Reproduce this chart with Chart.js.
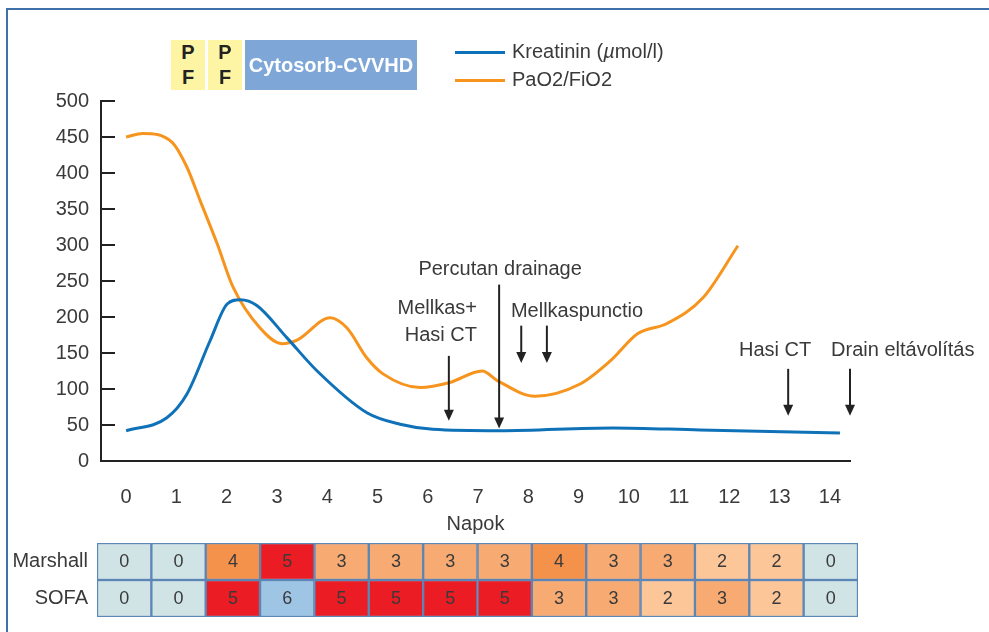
<!DOCTYPE html>
<html>
<head>
<meta charset="utf-8">
<script src="https://cdn.jsdelivr.net/npm/chart.js@4.4.1/dist/chart.umd.min.js"></script>
<style>
  body { margin: 0; width: 989px; height: 632px; position: relative; overflow: hidden; background: #fff;
         font-family: "Liberation Sans", Arial, sans-serif; }
  .frame { position: absolute; left: 6px; top: 8px; width: 1000px; height: 640px;
           border-top: 2px solid #3f70a9; border-left: 2px solid #3f70a9; }
  #mainWrap { position: absolute; left: 0; top: 0; width: 989px; height: 540px; }
  #tableWrap { position: absolute; left: 0; top: 522px; width: 989px; height: 116px; }
  .pf { position: absolute; top: 40px; width: 34px; height: 50px; background: #fdf5a3; color: #222;
        font-weight: bold; font-size: 20px; line-height: 25px; text-align: center; }
  .cyto { position: absolute; left: 245px; top: 40px; width: 172px; height: 50px; background: #7ea7d8;
          color: #fff; font-weight: bold; font-size: 20px; line-height: 50px; text-align: center; }
  .leg { position: absolute; left: 455px; font-size: 20px; color: #3a3a3a; }
  .leg span.line { position: absolute; left: 0; width: 50px; height: 3px; }
  .leg span.txt { position: absolute; left: 57px; top: -12px; white-space: nowrap; line-height: 24px; }
</style>
</head>
<body>
<div class="frame"></div>
<div id="mainWrap"><canvas id="mainChart" width="989" height="540"></canvas></div>
<div id="tableWrap"><canvas id="scoreChart" width="989" height="116"></canvas></div>

<div class="pf" style="left:171px">P<br>F</div>
<div class="pf" style="left:208px">P<br>F</div>
<div class="cyto">Cytosorb-CVVHD</div>
<div class="leg" style="top:51px"><span class="line" style="background:#0f72b9"></span><span class="txt">Kreatinin (<i>µ</i>mol/l)</span></div>
<div class="leg" style="top:79px"><span class="line" style="background:#f7941d"></span><span class="txt">PaO2/FiO2</span></div>

<script>
// napok (days) on the x axis
const dayTicks = [0, 1, 2, 3, 4, 5, 6, 7, 8, 9, 10, 11, 12, 13, 14];

// Kreatinin (umol/l)
const kreatDays = [0, 0.81, 1.21, 1.67, 2.01, 2.27, 2.6, 3.2, 3.8, 4.79, 5.45, 6.1, 7.44, 9.69, 11.42, 14.2];
const kreatValues = [42, 60, 93, 167, 218, 224, 216, 171, 125, 67, 51, 44, 42, 46, 43, 39];

// PaO2/FiO2
const pfDays = [0, 0.33, 0.91, 1.21, 1.47, 1.81, 2.13, 2.66, 3.1, 3.4, 4.06, 4.39, 4.79, 5.11, 5.85, 6.44, 7.08, 7.4, 8.13, 9.03, 9.63, 10.18, 10.76, 11.48, 12.17];
const pfValues = [450, 455, 443, 408, 362, 302, 241, 185, 163, 168, 199, 185, 143, 121, 102, 109, 125, 111, 90, 107, 139, 177, 191, 227, 299];

// események (events): day, arrow top value, arrow tip value
const eventDays = [6.42, 7.42, 7.86, 8.37, 13.17, 14.4];
const eventTop = [146, 245, 188, 188, 128, 128];
const eventTip = [56, 45, 136, 136, 63, 63];

// event labels: text, day, value
const noteTexts = ["Mellkas+", "Hasi CT", "Percutan drainage", "Mellkaspunctio", "Hasi CT", "Drain eltávolítás"];
const noteDays = [6.19, 6.26, 7.44, 8.97, 12.91, 15.45];
const noteValues = [212, 175, 266, 207, 153, 153];

// score table
const scoreRows = ["Marshall", "SOFA"];
const marshallScores = [0, 0, 4, 5, 3, 3, 3, 3, 4, 3, 3, 2, 2, 0];
const sofaScores = [0, 0, 5, 6, 5, 5, 5, 5, 3, 3, 2, 3, 2, 0];
const scoreColors = { 0: "#d0e4e6", 2: "#fcc698", 3: "#f7aa72", 4: "#f4914a", 5: "#ec1c24", 6: "#9fc5e4" };

const textColor = "#3a3a3a";
const fontFamily = "'Liberation Sans', Arial, sans-serif";

const eventPlugin = {
  id: "events",
  afterDraw(chart) {
    const ctx = chart.ctx;
    const x = chart.scales.x;
    const y = chart.scales.y;
    ctx.save();
    // inward tick marks on the y axis
    ctx.strokeStyle = "#222";
    ctx.lineWidth = 2;
    y.ticks.forEach((t) => {
      const py = y.getPixelForValue(t.value);
      ctx.beginPath();
      ctx.moveTo(chart.chartArea.left, py);
      ctx.lineTo(chart.chartArea.left + 14, py);
      ctx.stroke();
    });
    // arrows
    ctx.fillStyle = "#222";
    eventDays.forEach((d, i) => {
      const px = x.getPixelForValue(d);
      const top = y.getPixelForValue(eventTop[i]);
      const tip = y.getPixelForValue(eventTip[i]);
      ctx.beginPath();
      ctx.moveTo(px, top);
      ctx.lineTo(px, tip - 8);
      ctx.stroke();
      ctx.beginPath();
      ctx.moveTo(px - 5, tip - 11);
      ctx.lineTo(px + 5, tip - 11);
      ctx.lineTo(px, tip);
      ctx.closePath();
      ctx.fill();
    });
    // labels
    ctx.fillStyle = textColor;
    ctx.font = "20px " + fontFamily;
    ctx.textAlign = "center";
    ctx.textBaseline = "middle";
    noteTexts.forEach((t, i) => {
      ctx.fillText(t, x.getPixelForValue(noteDays[i]), y.getPixelForValue(noteValues[i]));
    });
    ctx.restore();
  },
};

new Chart(document.getElementById("mainChart"), {
  type: "line",
  data: {
    datasets: [
      {
        label: "Kreatinin (µmol/l)",
        data: kreatDays.map((d, i) => ({ x: d, y: kreatValues[i] })),
        borderColor: "#0f72b9",
        borderWidth: 3,
        pointRadius: 0,
        cubicInterpolationMode: "monotone",
      },
      {
        label: "PaO2/FiO2",
        data: pfDays.map((d, i) => ({ x: d, y: pfValues[i] })),
        borderColor: "#f7941d",
        borderWidth: 3,
        pointRadius: 0,
        cubicInterpolationMode: "monotone",
      },
    ],
  },
  options: {
    responsive: false,
    animation: false,
    layout: { padding: { top: 101, right: 139, left: 0, bottom: 0 } },
    plugins: { legend: { display: false }, tooltip: { enabled: false } },
    scales: {
      x: {
        type: "linear",
        min: -0.5,
        max: 14.4,
        grid: { display: false, drawTicks: false },
        border: { color: "#222", width: 2 },
        ticks: { padding: 24, color: textColor, font: { size: 20, family: fontFamily } },
        afterBuildTicks: (s) => { s.ticks = dayTicks.map((v) => ({ value: v })); },
        afterFit: (s) => { s.height = 79; },
        title: { display: true, text: "Napok", color: textColor, font: { size: 20, family: fontFamily }, padding: { top: 0, bottom: 4 } },
      },
      y: {
        min: 0,
        max: 500,
        grid: { display: false, drawTicks: false },
        border: { color: "#222", width: 2 },
        ticks: { stepSize: 50, padding: 12, color: textColor, font: { size: 20, family: fontFamily } },
        afterFit: (s) => { s.width = 101; },
      },
    },
  },
  plugins: [eventPlugin],
});

const cellTextPlugin = {
  id: "cellText",
  afterDatasetsDraw(chart) {
    const ctx = chart.ctx;
    ctx.save();
    ctx.fillStyle = textColor;
    ctx.font = "18px " + fontFamily;
    ctx.textAlign = "center";
    ctx.textBaseline = "middle";
    chart.data.datasets.forEach((ds, i) => {
      chart.getDatasetMeta(i).data.forEach((el, r) => {
        const score = r === 0 ? marshallScores[i] : sofaScores[i];
        ctx.fillText(String(score), (el.x + el.base) / 2, el.y + 1);
      });
    });
    ctx.restore();
  },
};

// the row labels reserve 21px above and below the cells (half label height + padding)
new Chart(document.getElementById("scoreChart"), {
  type: "bar",
  data: {
    labels: scoreRows,
    datasets: marshallScores.map((m, i) => ({
      label: "nap " + i,
      data: [1, 1],
      backgroundColor: [scoreColors[m], scoreColors[sofaScores[i]]],
      borderColor: "#5b86b6",
      borderWidth: 1.5,
      borderSkipped: false,
    })),
  },
  options: {
    indexAxis: "y",
    responsive: false,
    animation: false,
    datasets: { bar: { barPercentage: 1, categoryPercentage: 1 } },
    layout: { padding: { top: 0, bottom: 0, left: 0, right: 131 } },
    plugins: { legend: { display: false }, tooltip: { enabled: false } },
    scales: {
      x: { stacked: true, min: 0, max: 14, display: false },
      y: {
        stacked: true,
        grid: { display: false, drawTicks: false },
        border: { display: false },
        ticks: { padding: 9, color: textColor, font: { size: 20, family: fontFamily } },
        afterFit: (s) => { s.width = 97; },
      },
    },
  },
  plugins: [cellTextPlugin],
});
</script>
</body>
</html>
